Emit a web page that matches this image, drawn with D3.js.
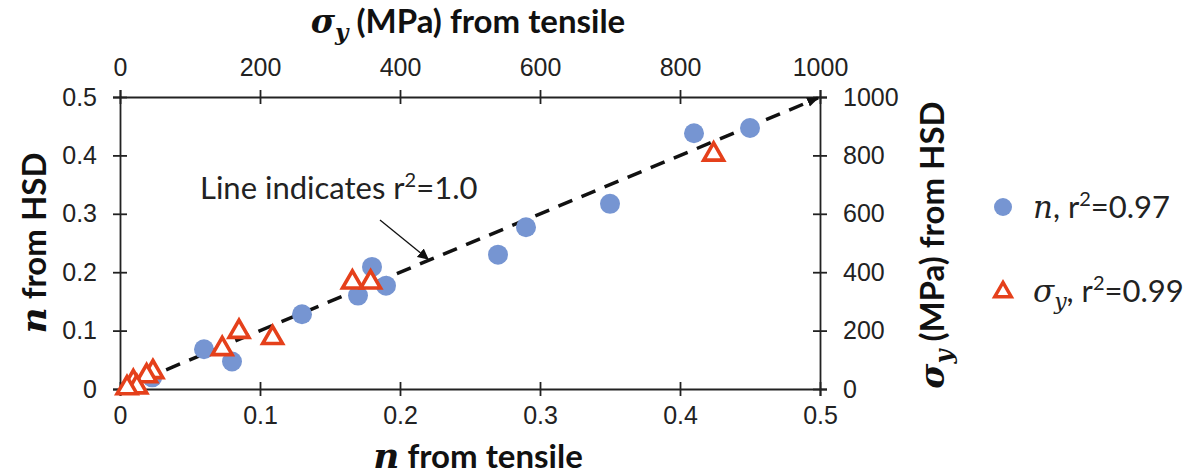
<!DOCTYPE html>
<html>
<head>
<meta charset="utf-8">
<script src="https://cdn.jsdelivr.net/npm/d3@7"></script>
<style>
  body { margin: 0; background: #fff; }
  .title { font-family: Lato, "Open Sans", sans-serif; font-weight: 700; font-size: 33px; fill: #111; }
  .math { font-family: "DejaVu Serif", "Liberation Serif", serif; font-style: italic; }
  .lbl { font-family: Lato, "Open Sans", sans-serif; font-size: 31px; fill: #222; }
</style>
</head>
<body>
<svg id="chart" width="1203" height="476"></svg>
<script>
// n values (strain hardening exponent), tensile vs HSD
const nTensile = [0.45, 0.41, 0.35, 0.29, 0.27, 0.19, 0.18, 0.17, 0.13, 0.08, 0.06, 0.023];
const nHSD     = [0.447, 0.438, 0.317, 0.277, 0.230, 0.177, 0.209, 0.160, 0.128, 0.047, 0.068, 0.02];

// yield strength (MPa), tensile vs HSD
const sigmaTensile = [848, 358, 332, 170, 146, 218, 47, 38, 19, 24, 10];
const sigmaHSD     = [800, 362, 362, 193, 134, 172, 55, 41, 21, 3, 0];

const nTicks = [0, 0.1, 0.2, 0.3, 0.4, 0.5];
const sigmaTicks = [0, 200, 400, 600, 800, 1000];

const margin = { left: 120, right: 383, top: 97, bottom: 87 };
const svg = d3.select('#chart');
const W = 1203, H = 476;

let x = d3.scaleLinear().domain([0, 0.5]).range([margin.left, W - margin.right]);
let y = d3.scaleLinear().domain([0, 0.5]).range([H - margin.bottom, margin.top]);
let xs = d3.scaleLinear().domain([0, 1000]).range(x.range());
let ys = d3.scaleLinear().domain([0, 1000]).range(y.range());

const blue = '#7695d2';
const red = '#e5401b';

function styleAxis(g, horizontal) {
	g.selectAll('.tick line')
		.attr(horizontal ? 'y1' : 'x1', -7)
		.attr(horizontal ? 'y2' : 'x2', 7);
	g.selectAll('line, .domain').attr('stroke', '#222').attr('stroke-width', 1.8);
	g.selectAll('.tick text')
		.attr('font-family', '"Liberation Sans", Arial, sans-serif')
		.attr('font-size', 25)
		.attr('fill', '#222');
}
const fmt = d3.format('');

// bottom axis
svg.append('g')
	.attr('transform', 'translate(0,' + y(0) + ')')
	.call(d3.axisBottom(x).tickValues(nTicks).tickFormat(fmt).tickSize(7).tickPadding(10))
	.call(g => styleAxis(g, true));
// top axis
svg.append('g')
	.attr('transform', 'translate(0,' + y(0.5) + ')')
	.call(d3.axisTop(xs).tickValues(sigmaTicks).tickFormat(fmt).tickSize(7).tickPadding(14))
	.call(g => styleAxis(g, true));
// left axis
svg.append('g')
	.attr('transform', 'translate(' + x(0) + ',0)')
	.call(d3.axisLeft(y).tickValues(nTicks).tickFormat(fmt).tickSize(7).tickPadding(16))
	.call(g => styleAxis(g, false));
// right axis
svg.append('g')
	.attr('transform', 'translate(' + x(0.5) + ',0)')
	.call(d3.axisRight(ys).tickValues(sigmaTicks).tickFormat(fmt).tickSize(7).tickPadding(16))
	.call(g => styleAxis(g, false));

// axis titles
let bt = svg.append('text').attr('class', 'title').attr('x', 478).attr('y', 468).attr('text-anchor', 'middle');
bt.append('tspan').attr('class', 'math').attr('font-size', 36).text('n');
bt.append('tspan').text(' from tensile');

let tt = svg.append('text').attr('class', 'title').attr('x', 468).attr('y', 33)
	.attr('font-size', 32).attr('text-anchor', 'middle');
tt.append('tspan').attr('class', 'math').attr('font-size', 33).text('σ');
tt.append('tspan').attr('class', 'math').attr('font-size', 23).attr('dy', 7).text('y');
tt.append('tspan').attr('dy', -7).text(' (MPa) from tensile');

let lt = svg.append('text').attr('class', 'title').attr('text-anchor', 'middle')
	.attr('transform', 'translate(46,243) rotate(-90)');
lt.append('tspan').attr('class', 'math').attr('font-size', 36).text('n');
lt.append('tspan').text(' from HSD');

let rt = svg.append('text').attr('class', 'title').attr('text-anchor', 'middle')
	.attr('transform', 'translate(944,245) rotate(-90)');
rt.append('tspan').attr('class', 'math').attr('font-size', 34).text('σ');
rt.append('tspan').attr('class', 'math').attr('font-size', 24).attr('dy', 8).text('y');
rt.append('tspan').attr('dy', -8).text(' (MPa) from HSD');

// markers
let defs = svg.append('defs');
defs.append('marker').attr('id', 'thin').attr('viewBox', '0 0 10 10').attr('refX', 9).attr('refY', 5)
	.attr('markerWidth', 11).attr('markerHeight', 11).attr('orient', 'auto').attr('markerUnits', 'userSpaceOnUse')
	.append('path').attr('d', 'M0,0L10,5L0,10Z').attr('fill', '#111');
defs.append('marker').attr('id', 'thick').attr('viewBox', '0 0 10 10').attr('refX', 9).attr('refY', 5)
	.attr('markerWidth', 12).attr('markerHeight', 12).attr('orient', 'auto').attr('markerUnits', 'userSpaceOnUse')
	.append('path').attr('d', 'M0,1L10,5L0,9Z').attr('fill', '#111');

// 1:1 line
svg.append('line')
	.attr('x1', x(0)).attr('y1', y(0)).attr('x2', x(0.5) - 2).attr('y2', y(0.5) + 1)
	.attr('stroke', '#111').attr('stroke-width', 3.5).attr('stroke-dasharray', '15,10')
	.attr('marker-end', 'url(#thick)');

// n points
svg.append('g').selectAll('circle')
	.data(nTensile.map((d, i) => [d, nHSD[i]]))
	.join('circle')
	.attr('cx', d => x(d[0])).attr('cy', d => y(d[1])).attr('r', 10)
	.attr('fill', blue);

// sigma points
let tri = d3.symbol().type(d3.symbolTriangle).size(170);
svg.append('g').selectAll('path')
	.data(sigmaTensile.map((d, i) => [d, sigmaHSD[i]]))
	.join('path')
	.attr('d', tri)
	.attr('transform', d => 'translate(' + xs(d[0]) + ',' + (ys(d[1]) - 1) + ')')
	.attr('fill', '#fff').attr('stroke', red).attr('stroke-width', 3.6);

// annotation
let ann = svg.append('text').attr('class', 'lbl').attr('x', 200).attr('y', 199);
ann.append('tspan').text('Line indicates r');
ann.append('tspan').attr('font-size', 20).attr('dy', -12).text('2');
ann.append('tspan').attr('dy', 12).text('=1.0');
svg.append('line').attr('x1', 380).attr('y1', 220).attr('x2', 428).attr('y2', 259)
	.attr('stroke', '#111').attr('stroke-width', 1.3).attr('marker-end', 'url(#thin)');

// legend
svg.append('circle').attr('cx', 1003).attr('cy', 207).attr('r', 9).attr('fill', blue);
let l1 = svg.append('text').attr('class', 'lbl').attr('x', 1033).attr('y', 218);
l1.append('tspan').attr('class', 'math').attr('font-size', 31).text('n');
l1.append('tspan').text(', r');
l1.append('tspan').attr('font-size', 20).attr('dy', -12).text('2');
l1.append('tspan').attr('dy', 12).text('=0.97');

svg.append('path').attr('d', d3.symbol().type(d3.symbolTriangle).size(120))
	.attr('transform', 'translate(1003,292)')
	.attr('fill', '#fff').attr('stroke', red).attr('stroke-width', 3.4);
let l2 = svg.append('text').attr('class', 'lbl').attr('x', 1033).attr('y', 302);
l2.append('tspan').attr('class', 'math').attr('font-size', 31).text('σ');
l2.append('tspan').attr('class', 'math').attr('font-size', 22).attr('dy', 7).text('y');
l2.append('tspan').attr('dy', -7).text(', r');
l2.append('tspan').attr('font-size', 20).attr('dy', -12).text('2');
l2.append('tspan').attr('dy', 12).text('=0.99');
</script>
</body>
</html>
